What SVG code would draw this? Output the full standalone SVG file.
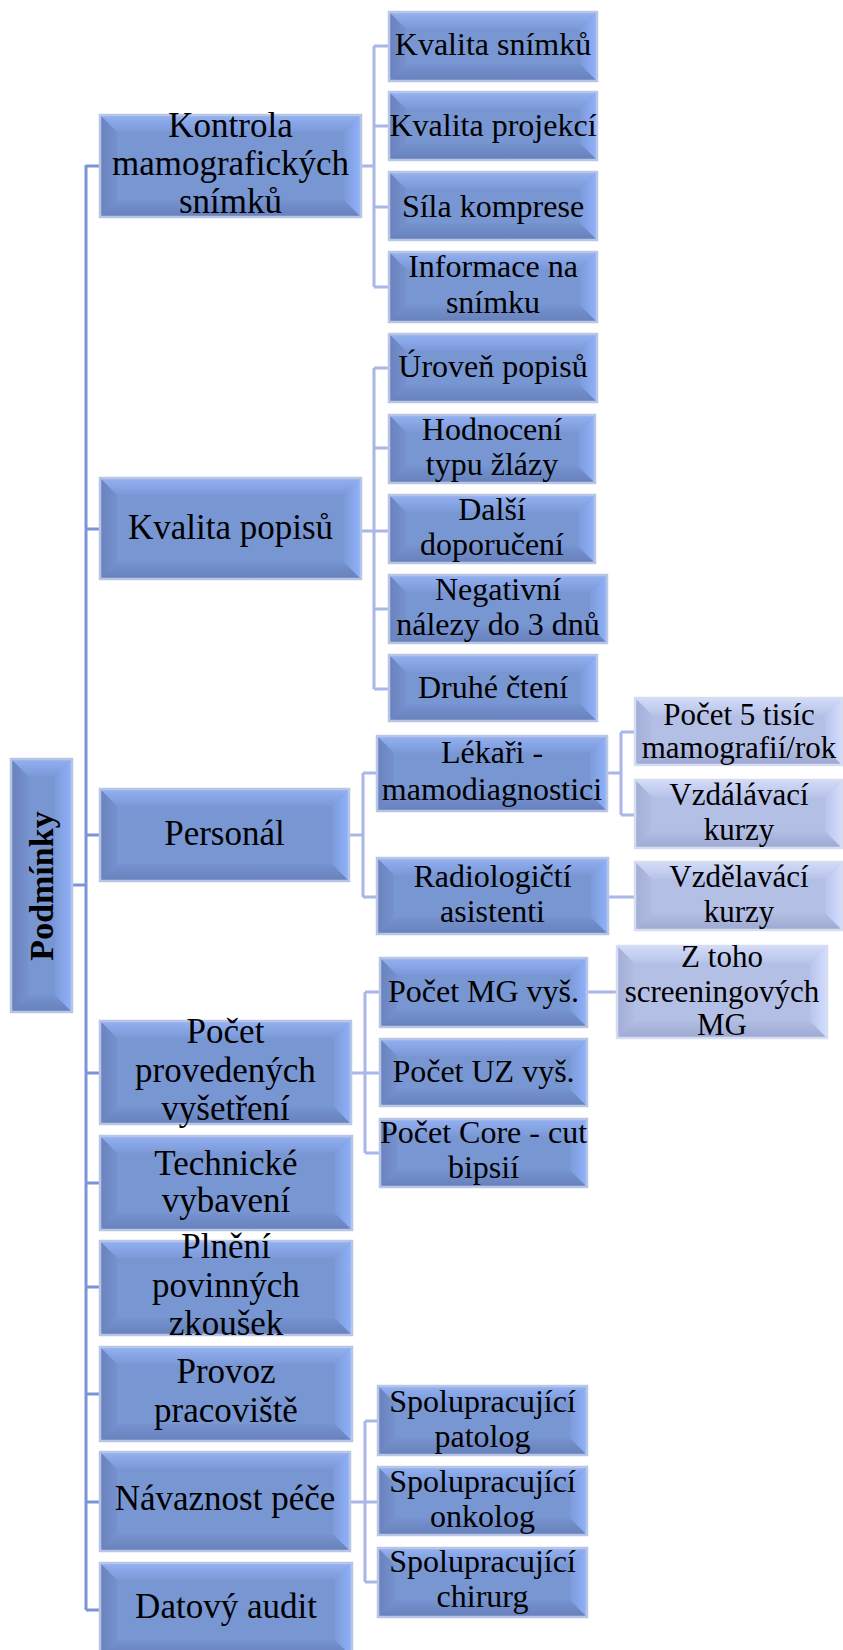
<svg xmlns="http://www.w3.org/2000/svg" width="843" height="1650" viewBox="0 0 843 1650">
<defs>
<linearGradient id="gT" x1="0" y1="0" x2="0" y2="1"><stop offset="0" stop-color="#94b1f3"/><stop offset="1" stop-color="#7b99d7"/></linearGradient>
<linearGradient id="gB" x1="0" y1="0" x2="0" y2="1"><stop offset="0" stop-color="#7593cf"/><stop offset="1" stop-color="#6780bb"/></linearGradient>
<linearGradient id="gL" x1="0" y1="0" x2="1" y2="0"><stop offset="0" stop-color="#6a82be"/><stop offset="1" stop-color="#7591cd"/></linearGradient>
<linearGradient id="gR" x1="0" y1="0" x2="1" y2="0"><stop offset="0" stop-color="#7c9bd9"/><stop offset="1" stop-color="#90b2fc"/></linearGradient>
<linearGradient id="hT" x1="0" y1="0" x2="0" y2="1"><stop offset="0" stop-color="#d2dbf8"/><stop offset="1" stop-color="#b8c3e9"/></linearGradient>
<linearGradient id="hB" x1="0" y1="0" x2="0" y2="1"><stop offset="0" stop-color="#b2bde4"/><stop offset="1" stop-color="#9ea9d1"/></linearGradient>
<linearGradient id="hL" x1="0" y1="0" x2="1" y2="0"><stop offset="0" stop-color="#a3aed7"/><stop offset="1" stop-color="#b1bce3"/></linearGradient>
<linearGradient id="hR" x1="0" y1="0" x2="1" y2="0"><stop offset="0" stop-color="#b9c4eb"/><stop offset="1" stop-color="#d3ddff"/></linearGradient>
<style>
.b{fill:#7896d2}
.t{fill:url(#gT)}.bo{fill:url(#gB)}.l{fill:url(#gL)}.r{fill:url(#gR)}
.o{fill:none;stroke:#b9c5e5;stroke-width:2.5}
.lt .b{fill:#b4bfe6}
.lt .t{fill:url(#hT)}.lt .bo{fill:url(#hB)}.lt .l{fill:url(#hL)}.lt .r{fill:url(#hR)}
.lt .o{stroke:#d6ddf1}
text{font-family:"Liberation Serif","Times New Roman",serif;fill:#000;text-anchor:middle}
.t1{font-size:35px}
.t2{font-size:32px}
.t3{font-size:31px}
.t0{font-size:34px;font-weight:bold}
.c1{fill:none;stroke:#7b94d6;stroke-width:3}
.c2{fill:none;stroke:#a9b6e8;stroke-width:3}
</style>
</defs>

<g id="connectors">
<path class="c1" d="M72,885H86M86,165V1610M86,166H100M86,529H100M86,835H100M86,1073H100M86,1183H100M86,1287H100M86,1394H100M86,1502H100M86,1610H100"/>
<path class="c2" d="M361,166H374M374,46V287M374,46H389M374,126H389M374,207H389M374,287H389"/>
<path class="c2" d="M361,531H374M374,368V689M374,368H389M374,448H389M374,531H389M374,609H389M374,689H389"/>
<path class="c2" d="M349,835H363M363,773V897M363,773H377M363,897H377"/>
<path class="c2" d="M607,773H621M621,732V815M621,732H635M621,815H635M608,897H635"/>
<path class="c2" d="M351,1073H365M365,992V1153M365,992H380M365,1073H380M365,1153H380M587,992H617"/>
<path class="c2" d="M350,1502H365M365,1421V1582M365,1421H378M365,1502H378M365,1582H378"/>
</g>

<g id="root">
<rect class="b" x="11" y="759" width="61" height="253"/>
<polygon class="t" points="11,759 72,759 55,776 28,776"/>
<polygon class="bo" points="11,1012 72,1012 55,995 28,995"/>
<polygon class="l" points="11,759 28,776 28,995 11,1012"/>
<polygon class="r" points="72,759 55,776 55,995 72,1012"/>
<rect class="o" x="11" y="759" width="61" height="253"/>
<text class="t0" transform="translate(53,886) rotate(-90)">Podmínky</text>
</g>

<g id="n-kontrola">
<rect class="b" x="100" y="115" width="261" height="102"/>
<polygon class="t" points="100,115 361,115 344,132 117,132"/>
<polygon class="bo" points="100,217 361,217 344,200 117,200"/>
<polygon class="l" points="100,115 117,132 117,200 100,217"/>
<polygon class="r" points="361,115 344,132 344,200 361,217"/>
<rect class="o" x="100" y="115" width="261" height="102"/>
<text class="t1" x="230.5" y="137">Kontrola</text>
<text class="t1" x="230.5" y="175">mamografických</text>
<text class="t1" x="230.5" y="213">snímků</text>
</g>

<g id="n-kvalita-popisu">
<rect class="b" x="100" y="478" width="261" height="101"/>
<polygon class="t" points="100,478 361,478 344,495 117,495"/>
<polygon class="bo" points="100,579 361,579 344,562 117,562"/>
<polygon class="l" points="100,478 117,495 117,562 100,579"/>
<polygon class="r" points="361,478 344,495 344,562 361,579"/>
<rect class="o" x="100" y="478" width="261" height="101"/>
<text class="t1" x="230.5" y="539">Kvalita popisů</text>
</g>

<g id="n-personal">
<rect class="b" x="100" y="789" width="249" height="92"/>
<polygon class="t" points="100,789 349,789 332,806 117,806"/>
<polygon class="bo" points="100,881 349,881 332,864 117,864"/>
<polygon class="l" points="100,789 117,806 117,864 100,881"/>
<polygon class="r" points="349,789 332,806 332,864 349,881"/>
<rect class="o" x="100" y="789" width="249" height="92"/>
<text class="t1" x="224.5" y="845">Personál</text>
</g>

<g id="n-pocet-provedenych">
<rect class="b" x="100" y="1021" width="251" height="103"/>
<polygon class="t" points="100,1021 351,1021 334,1038 117,1038"/>
<polygon class="bo" points="100,1124 351,1124 334,1107 117,1107"/>
<polygon class="l" points="100,1021 117,1038 117,1107 100,1124"/>
<polygon class="r" points="351,1021 334,1038 334,1107 351,1124"/>
<rect class="o" x="100" y="1021" width="251" height="103"/>
<text class="t1" x="225.5" y="1043">Počet</text>
<text class="t1" x="225.5" y="1082">provedených</text>
<text class="t1" x="225.5" y="1120">vyšetření</text>
</g>

<g id="n-technicke">
<rect class="b" x="100" y="1136" width="252" height="94"/>
<polygon class="t" points="100,1136 352,1136 335,1153 117,1153"/>
<polygon class="bo" points="100,1230 352,1230 335,1213 117,1213"/>
<polygon class="l" points="100,1136 117,1153 117,1213 100,1230"/>
<polygon class="r" points="352,1136 335,1153 335,1213 352,1230"/>
<rect class="o" x="100" y="1136" width="252" height="94"/>
<text class="t1" x="226" y="1175">Technické</text>
<text class="t1" x="226" y="1212">vybavení</text>
</g>

<g id="n-plneni">
<rect class="b" x="100" y="1241" width="252" height="94"/>
<polygon class="t" points="100,1241 352,1241 335,1258 117,1258"/>
<polygon class="bo" points="100,1335 352,1335 335,1318 117,1318"/>
<polygon class="l" points="100,1241 117,1258 117,1318 100,1335"/>
<polygon class="r" points="352,1241 335,1258 335,1318 352,1335"/>
<rect class="o" x="100" y="1241" width="252" height="94"/>
<text class="t1" x="226" y="1258">Plnění</text>
<text class="t1" x="226" y="1297">povinných</text>
<text class="t1" x="226" y="1335">zkoušek</text>
</g>

<g id="n-provoz">
<rect class="b" x="100" y="1347" width="252" height="94"/>
<polygon class="t" points="100,1347 352,1347 335,1364 117,1364"/>
<polygon class="bo" points="100,1441 352,1441 335,1424 117,1424"/>
<polygon class="l" points="100,1347 117,1364 117,1424 100,1441"/>
<polygon class="r" points="352,1347 335,1364 335,1424 352,1441"/>
<rect class="o" x="100" y="1347" width="252" height="94"/>
<text class="t1" x="226" y="1383">Provoz</text>
<text class="t1" x="226" y="1422">pracoviště</text>
</g>

<g id="n-navaznost">
<rect class="b" x="100" y="1452" width="250" height="99"/>
<polygon class="t" points="100,1452 350,1452 333,1469 117,1469"/>
<polygon class="bo" points="100,1551 350,1551 333,1534 117,1534"/>
<polygon class="l" points="100,1452 117,1469 117,1534 100,1551"/>
<polygon class="r" points="350,1452 333,1469 333,1534 350,1551"/>
<rect class="o" x="100" y="1452" width="250" height="99"/>
<text class="t1" x="225" y="1510">Návaznost péče</text>
</g>

<g id="n-datovy">
<rect class="b" x="100" y="1563" width="252" height="94"/>
<polygon class="t" points="100,1563 352,1563 335,1580 117,1580"/>
<polygon class="bo" points="100,1657 352,1657 335,1640 117,1640"/>
<polygon class="l" points="100,1563 117,1580 117,1640 100,1657"/>
<polygon class="r" points="352,1563 335,1580 335,1640 352,1657"/>
<rect class="o" x="100" y="1563" width="252" height="94"/>
<text class="t1" x="226" y="1618">Datový audit</text>
</g>

<g id="n-k1">
<rect class="b" x="389" y="12" width="208" height="69"/>
<polygon class="t" points="389,12 597,12 580,29 406,29"/>
<polygon class="bo" points="389,81 597,81 580,64 406,64"/>
<polygon class="l" points="389,12 406,29 406,64 389,81"/>
<polygon class="r" points="597,12 580,29 580,64 597,81"/>
<rect class="o" x="389" y="12" width="208" height="69"/>
<text class="t2" x="493" y="55">Kvalita snímků</text>
</g>

<g id="n-k2">
<rect class="b" x="389" y="92" width="208" height="68"/>
<polygon class="t" points="389,92 597,92 580,109 406,109"/>
<polygon class="bo" points="389,160 597,160 580,143 406,143"/>
<polygon class="l" points="389,92 406,109 406,143 389,160"/>
<polygon class="r" points="597,92 580,109 580,143 597,160"/>
<rect class="o" x="389" y="92" width="208" height="68"/>
<text class="t2" x="493" y="136">Kvalita projekcí</text>
</g>

<g id="n-k3">
<rect class="b" x="389" y="172" width="208" height="68"/>
<polygon class="t" points="389,172 597,172 580,189 406,189"/>
<polygon class="bo" points="389,240 597,240 580,223 406,223"/>
<polygon class="l" points="389,172 406,189 406,223 389,240"/>
<polygon class="r" points="597,172 580,189 580,223 597,240"/>
<rect class="o" x="389" y="172" width="208" height="68"/>
<text class="t2" x="493" y="217">Síla komprese</text>
</g>

<g id="n-k4">
<rect class="b" x="389" y="252" width="208" height="70"/>
<polygon class="t" points="389,252 597,252 580,269 406,269"/>
<polygon class="bo" points="389,322 597,322 580,305 406,305"/>
<polygon class="l" points="389,252 406,269 406,305 389,322"/>
<polygon class="r" points="597,252 580,269 580,305 597,322"/>
<rect class="o" x="389" y="252" width="208" height="70"/>
<text class="t2" x="493" y="277">Informace na</text>
<text class="t2" x="493" y="313">snímku</text>
</g>

<g id="n-p1">
<rect class="b" x="389" y="334" width="208" height="68"/>
<polygon class="t" points="389,334 597,334 580,351 406,351"/>
<polygon class="bo" points="389,402 597,402 580,385 406,385"/>
<polygon class="l" points="389,334 406,351 406,385 389,402"/>
<polygon class="r" points="597,334 580,351 580,385 597,402"/>
<rect class="o" x="389" y="334" width="208" height="68"/>
<text class="t2" x="493" y="377">Úroveň popisů</text>
</g>

<g id="n-p2">
<rect class="b" x="389" y="415" width="206" height="68"/>
<polygon class="t" points="389,415 595,415 578,432 406,432"/>
<polygon class="bo" points="389,483 595,483 578,466 406,466"/>
<polygon class="l" points="389,415 406,432 406,466 389,483"/>
<polygon class="r" points="595,415 578,432 578,466 595,483"/>
<rect class="o" x="389" y="415" width="206" height="68"/>
<text class="t2" x="492" y="440">Hodnocení</text>
<text class="t2" x="492" y="475">typu žlázy</text>
</g>

<g id="n-p3">
<rect class="b" x="389" y="495" width="206" height="68"/>
<polygon class="t" points="389,495 595,495 578,512 406,512"/>
<polygon class="bo" points="389,563 595,563 578,546 406,546"/>
<polygon class="l" points="389,495 406,512 406,546 389,563"/>
<polygon class="r" points="595,495 578,512 578,546 595,563"/>
<rect class="o" x="389" y="495" width="206" height="68"/>
<text class="t2" x="492" y="520">Další</text>
<text class="t2" x="492" y="555">doporučení</text>
</g>

<g id="n-p4">
<rect class="b" x="389" y="575" width="218" height="68"/>
<polygon class="t" points="389,575 607,575 590,592 406,592"/>
<polygon class="bo" points="389,643 607,643 590,626 406,626"/>
<polygon class="l" points="389,575 406,592 406,626 389,643"/>
<polygon class="r" points="607,575 590,592 590,626 607,643"/>
<rect class="o" x="389" y="575" width="218" height="68"/>
<text class="t2" x="498" y="600">Negativní</text>
<text class="t2" x="498" y="635">nálezy do 3 dnů</text>
</g>

<g id="n-p5">
<rect class="b" x="389" y="655" width="208" height="66"/>
<polygon class="t" points="389,655 597,655 580,672 406,672"/>
<polygon class="bo" points="389,721 597,721 580,704 406,704"/>
<polygon class="l" points="389,655 406,672 406,704 389,721"/>
<polygon class="r" points="597,655 580,672 580,704 597,721"/>
<rect class="o" x="389" y="655" width="208" height="66"/>
<text class="t2" x="493" y="698">Druhé čtení</text>
</g>

<g id="n-lekari">
<rect class="b" x="377" y="736" width="230" height="75"/>
<polygon class="t" points="377,736 607,736 590,753 394,753"/>
<polygon class="bo" points="377,811 607,811 590,794 394,794"/>
<polygon class="l" points="377,736 394,753 394,794 377,811"/>
<polygon class="r" points="607,736 590,753 590,794 607,811"/>
<rect class="o" x="377" y="736" width="230" height="75"/>
<text class="t2" x="492" y="763">Lékaři -</text>
<text class="t2" x="492" y="800">mamodiagnostici</text>
</g>

<g id="n-radiologicti">
<rect class="b" x="377" y="858" width="231" height="76"/>
<polygon class="t" points="377,858 608,858 591,875 394,875"/>
<polygon class="bo" points="377,934 608,934 591,917 394,917"/>
<polygon class="l" points="377,858 394,875 394,917 377,934"/>
<polygon class="r" points="608,858 591,875 591,917 608,934"/>
<rect class="o" x="377" y="858" width="231" height="76"/>
<text class="t2" x="492.5" y="887">Radiologičtí</text>
<text class="t2" x="492.5" y="922">asistenti</text>
</g>

<g id="n-pocet5" class="lt">
<rect class="b" x="635" y="698" width="207" height="67"/>
<polygon class="t" points="635,698 842,698 825,715 652,715"/>
<polygon class="bo" points="635,765 842,765 825,748 652,748"/>
<polygon class="l" points="635,698 652,715 652,748 635,765"/>
<polygon class="r" points="842,698 825,715 825,748 842,765"/>
<rect class="o" x="635" y="698" width="207" height="67"/>
<text class="t3" x="739" y="725">Počet 5 tisíc</text>
<text class="t3" x="739" y="758">mamografií/rok</text>
</g>

<g id="n-vzdalavaci" class="lt">
<rect class="b" x="635" y="780" width="207" height="68"/>
<polygon class="t" points="635,780 842,780 825,797 652,797"/>
<polygon class="bo" points="635,848 842,848 825,831 652,831"/>
<polygon class="l" points="635,780 652,797 652,831 635,848"/>
<polygon class="r" points="842,780 825,797 825,831 842,848"/>
<rect class="o" x="635" y="780" width="207" height="68"/>
<text class="t3" x="739" y="805">Vzdálávací</text>
<text class="t3" x="739" y="840">kurzy</text>
</g>

<g id="n-vzdelavaci" class="lt">
<rect class="b" x="635" y="862" width="207" height="68"/>
<polygon class="t" points="635,862 842,862 825,879 652,879"/>
<polygon class="bo" points="635,930 842,930 825,913 652,913"/>
<polygon class="l" points="635,862 652,879 652,913 635,930"/>
<polygon class="r" points="842,862 825,879 825,913 842,930"/>
<rect class="o" x="635" y="862" width="207" height="68"/>
<text class="t3" x="739" y="887">Vzdělavácí</text>
<text class="t3" x="739" y="922">kurzy</text>
</g>

<g id="n-pocet-mg">
<rect class="b" x="380" y="958" width="207" height="69"/>
<polygon class="t" points="380,958 587,958 570,975 397,975"/>
<polygon class="bo" points="380,1027 587,1027 570,1010 397,1010"/>
<polygon class="l" points="380,958 397,975 397,1010 380,1027"/>
<polygon class="r" points="587,958 570,975 570,1010 587,1027"/>
<rect class="o" x="380" y="958" width="207" height="69"/>
<text class="t2" x="483.5" y="1002">Počet MG vyš.</text>
</g>

<g id="n-pocet-uz">
<rect class="b" x="380" y="1039" width="207" height="67"/>
<polygon class="t" points="380,1039 587,1039 570,1056 397,1056"/>
<polygon class="bo" points="380,1106 587,1106 570,1089 397,1089"/>
<polygon class="l" points="380,1039 397,1056 397,1089 380,1106"/>
<polygon class="r" points="587,1039 570,1056 570,1089 587,1106"/>
<rect class="o" x="380" y="1039" width="207" height="67"/>
<text class="t2" x="483.5" y="1082">Počet UZ vyš.</text>
</g>

<g id="n-pocet-core">
<rect class="b" x="380" y="1119" width="207" height="68"/>
<polygon class="t" points="380,1119 587,1119 570,1136 397,1136"/>
<polygon class="bo" points="380,1187 587,1187 570,1170 397,1170"/>
<polygon class="l" points="380,1119 397,1136 397,1170 380,1187"/>
<polygon class="r" points="587,1119 570,1136 570,1170 587,1187"/>
<rect class="o" x="380" y="1119" width="207" height="68"/>
<text class="t2" x="483.5" y="1143">Počet Core - cut</text>
<text class="t2" x="483.5" y="1178">bipsií</text>
</g>

<g id="n-ztoho" class="lt">
<rect class="b" x="617" y="946" width="210" height="92"/>
<polygon class="t" points="617,946 827,946 810,963 634,963"/>
<polygon class="bo" points="617,1038 827,1038 810,1021 634,1021"/>
<polygon class="l" points="617,946 634,963 634,1021 617,1038"/>
<polygon class="r" points="827,946 810,963 810,1021 827,1038"/>
<rect class="o" x="617" y="946" width="210" height="92"/>
<text class="t3" x="722" y="967">Z toho</text>
<text class="t3" x="722" y="1002">screeningových</text>
<text class="t3" x="722" y="1035">MG</text>
</g>

<g id="n-patolog">
<rect class="b" x="378" y="1386" width="209" height="69"/>
<polygon class="t" points="378,1386 587,1386 570,1403 395,1403"/>
<polygon class="bo" points="378,1455 587,1455 570,1438 395,1438"/>
<polygon class="l" points="378,1386 395,1403 395,1438 378,1455"/>
<polygon class="r" points="587,1386 570,1403 570,1438 587,1455"/>
<rect class="o" x="378" y="1386" width="209" height="69"/>
<text class="t2" x="482.5" y="1412">Spolupracující</text>
<text class="t2" x="482.5" y="1447">patolog</text>
</g>

<g id="n-onkolog">
<rect class="b" x="378" y="1467" width="209" height="68"/>
<polygon class="t" points="378,1467 587,1467 570,1484 395,1484"/>
<polygon class="bo" points="378,1535 587,1535 570,1518 395,1518"/>
<polygon class="l" points="378,1467 395,1484 395,1518 378,1535"/>
<polygon class="r" points="587,1467 570,1484 570,1518 587,1535"/>
<rect class="o" x="378" y="1467" width="209" height="68"/>
<text class="t2" x="482.5" y="1492">Spolupracující</text>
<text class="t2" x="482.5" y="1527">onkolog</text>
</g>

<g id="n-chirurg">
<rect class="b" x="378" y="1548" width="209" height="69"/>
<polygon class="t" points="378,1548 587,1548 570,1565 395,1565"/>
<polygon class="bo" points="378,1617 587,1617 570,1600 395,1600"/>
<polygon class="l" points="378,1548 395,1565 395,1600 378,1617"/>
<polygon class="r" points="587,1548 570,1565 570,1600 587,1617"/>
<rect class="o" x="378" y="1548" width="209" height="69"/>
<text class="t2" x="482.5" y="1572">Spolupracující</text>
<text class="t2" x="482.5" y="1607">chirurg</text>
</g>
</svg>
